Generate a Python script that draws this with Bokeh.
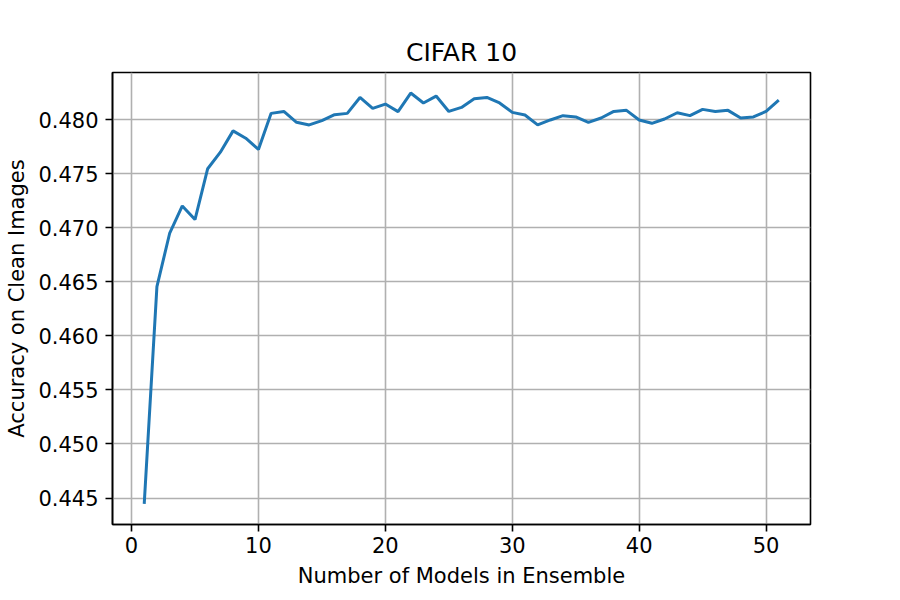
from bokeh.plotting import figure
from bokeh.models import Range1d, FixedTicker, PrintfTickFormatter, ColumnDataSource
from bokeh.embed import file_html
from bokeh.resources import INLINE

# Ensemble size vs. clean-image accuracy on CIFAR 10
n_models = list(range(1, 52))
accuracy = [
    0.44445, 0.46455, 0.46947, 0.47202, 0.47076, 0.47546, 0.47699, 0.47896, 0.47828, 0.47724,
    0.48058, 0.48076, 0.47975, 0.47951, 0.47991, 0.48046, 0.48058, 0.48205, 0.48104, 0.48144,
    0.48074, 0.48246, 0.48154, 0.48218, 0.48076, 0.48113, 0.48193, 0.48205, 0.48154, 0.48067,
    0.48043, 0.47951, 0.47997, 0.48037, 0.48025, 0.47975, 0.48015, 0.48076, 0.48086, 0.47997,
    0.47966, 0.48006, 0.48064, 0.48037, 0.48095, 0.48076, 0.48086, 0.48015, 0.48025, 0.48076,
    0.48181,
]
x_ticks = [0, 10, 20, 30, 40, 50]
y_ticks = [0.445, 0.450, 0.455, 0.460, 0.465, 0.470, 0.475, 0.480]

FONT = "DejaVu Sans"

src = ColumnDataSource(data=dict(n=n_models, acc=accuracy))

# 5% padding around the data on each axis
x_lo, x_hi = min(n_models), max(n_models)
y_lo, y_hi = min(accuracy), max(accuracy)
xpad = 0.05 * (x_hi - x_lo)
ypad = 0.05 * (y_hi - y_lo)

p = figure(
    width=900, height=600,
    output_backend="svg", toolbar_location=None,
    x_range=Range1d(x_lo - xpad, x_hi + xpad),
    y_range=Range1d(y_lo - ypad, y_hi + ypad),
    min_border_left=112, min_border_right=90,
    min_border_top=72, min_border_bottom=76,
    title="CIFAR 10",
)
p.background_fill_color = "white"
p.border_fill_color = "white"
p.outline_line_color = "black"
p.outline_line_width = 1.6

p.title.align = "center"
p.title.text_font = FONT
p.title.text_font_size = "25px"
p.title.text_font_style = "normal"
p.title.text_color = "black"
p.title.standoff = 11

p.line("n", "acc", source=src, line_color="#1f77b4", line_width=3)

p.xaxis.ticker = FixedTicker(ticks=x_ticks)
p.yaxis.ticker = FixedTicker(ticks=y_ticks)
p.yaxis.formatter = PrintfTickFormatter(format="%.3f")
p.xaxis.axis_label = "Number of Models in Ensemble"
p.yaxis.axis_label = "Accuracy on Clean Images"

for ax in (p.xaxis, p.yaxis):
    ax.axis_line_color = "black"
    ax.axis_line_width = 1.6
    ax.major_tick_line_color = "black"
    ax.major_tick_line_width = 1.6
    ax.major_tick_out = 7
    ax.major_tick_in = 0
    ax.minor_tick_line_color = None
    ax.major_label_text_font = FONT
    ax.major_label_text_font_size = "21px"
    ax.major_label_text_color = "black"
    ax.axis_label_text_font = FONT
    ax.axis_label_text_font_size = "21px"
    ax.axis_label_text_font_style = "normal"
    ax.axis_label_text_color = "black"

p.xaxis.major_label_standoff = 5
p.yaxis.major_label_standoff = 7
p.xaxis.axis_label_standoff = 8
p.yaxis.axis_label_standoff = 6

for g in (p.xgrid, p.ygrid):
    g.grid_line_color = "#b0b0b0"
    g.grid_line_width = 1.6

open("out.html", "w").write(file_html(p, INLINE))
